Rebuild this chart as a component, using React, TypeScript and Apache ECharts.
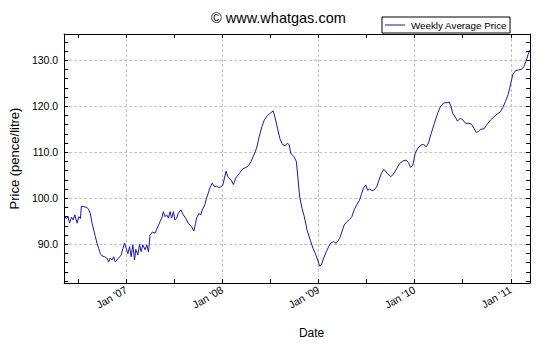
import React, { useEffect, useRef } from "react";
import * as echarts from "echarts";

// Decimal-year positions of the weekly readings
const years = [
  2006.362, 2006.376, 2006.397, 2006.41, 2006.431, 2006.448, 2006.466, 2006.49, 2006.507, 2006.524,
  2006.534, 2006.559, 2006.593, 2006.611, 2006.627, 2006.645, 2006.663, 2006.679, 2006.697, 2006.714,
  2006.731, 2006.748, 2006.776, 2006.8, 2006.818, 2006.834, 2006.852, 2006.87, 2006.886, 2006.904,
  2006.921, 2006.948, 2006.966, 2006.983, 2007.0, 2007.018, 2007.035, 2007.052, 2007.069, 2007.087,
  2007.1, 2007.121, 2007.139, 2007.155, 2007.173, 2007.197, 2007.214, 2007.232, 2007.248, 2007.273,
  2007.3, 2007.328, 2007.352, 2007.37, 2007.387, 2007.404, 2007.421, 2007.439, 2007.456, 2007.473,
  2007.491, 2007.507, 2007.525, 2007.542, 2007.569, 2007.594, 2007.618, 2007.646, 2007.68, 2007.704,
  2007.722, 2007.732, 2007.756, 2007.776, 2007.791, 2007.818, 2007.835, 2007.853, 2007.87, 2007.894,
  2007.921, 2007.939, 2007.957, 2007.983, 2008.004, 2008.039, 2008.056, 2008.091, 2008.115, 2008.143,
  2008.177, 2008.211, 2008.246, 2008.273, 2008.298, 2008.332, 2008.356, 2008.384, 2008.412, 2008.436,
  2008.47, 2008.505, 2008.529, 2008.55, 2008.574, 2008.598, 2008.625, 2008.653, 2008.677, 2008.695,
  2008.712, 2008.746, 2008.77, 2008.788, 2008.805, 2008.829, 2008.853, 2008.881, 2008.915, 2008.943,
  2008.967, 2008.992, 2009.012, 2009.029, 2009.054, 2009.081, 2009.106, 2009.129, 2009.157, 2009.184,
  2009.22, 2009.243, 2009.267, 2009.295, 2009.323, 2009.347, 2009.371, 2009.399, 2009.427, 2009.45,
  2009.468, 2009.492, 2009.512, 2009.53, 2009.554, 2009.578, 2009.606, 2009.623, 2009.654, 2009.681,
  2009.716, 2009.751, 2009.774, 2009.81, 2009.844, 2009.878, 2009.913, 2009.937, 2009.958, 2009.981,
  2010.006, 2010.033, 2010.068, 2010.095, 2010.12, 2010.144, 2010.172, 2010.206, 2010.24, 2010.268,
  2010.302, 2010.338, 2010.361, 2010.379, 2010.396, 2010.431, 2010.444, 2010.478, 2010.503, 2010.53,
  2010.565, 2010.592, 2010.617, 2010.641, 2010.662, 2010.685, 2010.721, 2010.755, 2010.789, 2010.824,
  2010.858, 2010.892, 2010.917, 2010.944, 2010.972, 2010.996, 2011.021, 2011.048, 2011.083, 2011.11,
  2011.135, 2011.158, 2011.179, 2011.197,
];

// Weekly average price, pence/litre
const prices = [
  96.1, 95.6, 96.0, 94.6, 95.9, 95.3, 96.4, 94.6, 96.0, 95.6,
  98.3, 98.2, 98.0, 97.5, 96.7, 94.6, 93.1, 91.7, 90.2, 89.1,
  88.0, 87.5, 87.3, 87.0, 86.2, 87.0, 86.6, 87.3, 86.2, 86.6,
  87.0, 87.7, 89.1, 90.3, 89.1, 88.0, 89.5, 87.3, 89.9, 86.6,
  88.9, 87.7, 90.0, 88.4, 89.9, 88.8, 89.9, 88.3, 92.0, 92.7,
  92.4, 93.8, 94.9, 95.7, 97.1, 96.0, 96.4, 95.7, 97.1, 95.7,
  97.1, 95.3, 95.7, 96.7, 97.5, 96.4, 95.7, 94.6, 93.8, 92.9,
  94.6, 95.7, 96.7, 96.4, 97.5, 98.6, 100.0, 101.1, 102.2, 103.3,
  102.5, 102.7, 102.3, 102.5, 102.8, 105.9, 104.7, 104.0, 103.0, 104.5,
  105.4, 106.4, 106.7, 107.1, 108.0, 109.6, 110.9, 113.4, 115.6, 117.0,
  118.0, 118.6, 119.0, 117.4, 115.2, 113.0, 111.7, 111.4, 112.0, 111.6,
  109.8, 109.0, 108.0, 104.0, 100.2, 97.8, 96.0, 93.1, 90.9, 89.1,
  88.0, 86.6, 85.3, 85.5, 87.0, 88.4, 89.5, 90.3, 90.6, 90.2,
  91.3, 92.7, 94.2, 94.9, 95.4, 96.0, 97.5, 98.6, 99.6, 101.1,
  102.2, 102.9, 101.7, 102.0, 101.7, 101.8, 102.5, 103.6, 105.4, 106.3,
  105.4, 104.7, 105.1, 106.3, 107.6, 108.1, 108.3, 107.7, 106.7, 107.2,
  109.8, 110.9, 111.6, 111.7, 111.2, 112.0, 114.1, 116.3, 118.5, 119.9,
  120.7, 120.8, 120.9, 119.9, 118.5, 117.4, 116.8, 117.4, 117.0, 116.3,
  116.3, 116.1, 115.2, 114.3, 114.5, 115.0, 115.1, 116.1, 117.0, 117.7,
  118.3, 118.8, 119.7, 121.0, 122.5, 124.6, 126.9, 127.7, 127.9, 128.0,
  128.6, 129.7, 131.2, 132.2,
];

const yearLabels = [2007, 2008, 2009, 2010, 2011];
const halfYearTicks = [2006.5, 2007, 2007.5, 2008, 2008.5, 2009, 2009.5, 2010, 2010.5, 2011];
const priceLabels = [90, 100, 110, 120, 130];
const priceTicks = [
  82, 84, 86, 88, 90, 92, 94, 96, 98, 100, 102, 104, 106, 108, 110, 112, 114, 116, 118,
  120, 122, 124, 126, 128, 130, 132, 134,
];

const X_MIN = 2006.355;
const X_MAX = 2011.2;
const Y_MIN = 81.6;
const Y_MAX = 135.7;

const FONT = "'Liberation Sans', Arial, sans-serif";
const LINE_COLOR = "#1818a8";

export default function App() {
  const ref = useRef<HTMLDivElement>(null);

  useEffect(() => {
    document.body.style.margin = "0";
    const chart = echarts.init(ref.current!, null, { renderer: "svg" });
    const gridLine = { show: true, lineStyle: { color: "#c4c4c4", type: [3, 2], width: 1 } };
    const blackLine = { show: true, onZero: false, lineStyle: { color: "#000", width: 1 } };

    chart.setOption({
      animation: false,
      backgroundColor: "#fff",
      textStyle: { fontFamily: FONT },
      title: {
        text: "© www.whatgas.com",
        left: 211,
        top: 10,
        padding: 0,
        textStyle: { fontFamily: FONT, fontSize: 14.5, fontWeight: "normal", color: "#000" },
      },
      legend: {
        data: ["Weekly Average Price"],
        left: 382,
        top: 17,
        orient: "horizontal",
        icon: "rect",
        backgroundColor: "#fff",
        borderColor: "#000",
        borderWidth: 1,
        padding: [3, 3, 3, 3],
        itemWidth: 20,
        itemHeight: 1,
        itemGap: 0,
        textStyle: { fontFamily: FONT, fontSize: 9.8, color: "#000", padding: [0, 0, 0, 1] },
      },
      grid: { left: 62, right: 20, top: 34, bottom: 67, containLabel: false },
      xAxis: [
        {
          type: "value",
          position: "bottom",
          min: X_MIN,
          max: X_MAX,
          axisLine: blackLine,
          axisTick: { show: true, inside: true, length: 4, customValues: halfYearTicks, lineStyle: { color: "#000" } },
          axisLabel: {
            customValues: yearLabels,
            rotate: 30,
            margin: 6,
            fontSize: 10.5,
            color: "#000",
            fontFamily: FONT,
            formatter: (v: number) => "Jan '" + String(Math.round(v)).slice(2),
          },
          splitLine: { show: false },
          name: "Date",
          nameLocation: "middle",
          nameGap: 44,
          nameTextStyle: { fontSize: 12, color: "#000", fontFamily: FONT, verticalAlign: "top", padding: [0, 0, 0, 29] },
        },
        {
          type: "value",
          position: "top",
          min: X_MIN,
          max: X_MAX,
          axisLine: blackLine,
          axisTick: { show: true, inside: true, length: 4, customValues: halfYearTicks, lineStyle: { color: "#000" } },
          axisLabel: { show: false },
          splitLine: { show: false },
        },
        {
          type: "value",
          position: "bottom",
          min: X_MIN,
          max: X_MAX,
          axisLine: { show: false },
          axisTick: { show: false, customValues: yearLabels },
          axisLabel: { show: false },
          splitLine: gridLine,
        },
      ],
      yAxis: [
        {
          type: "value",
          position: "left",
          min: Y_MIN,
          max: Y_MAX,
          axisLine: blackLine,
          axisTick: { show: true, inside: true, length: 4, customValues: priceTicks, lineStyle: { color: "#000" } },
          axisLabel: {
            customValues: priceLabels,
            margin: 6,
            fontSize: 10.5,
            color: "#000",
            fontFamily: FONT,
            formatter: (v: number) => v.toFixed(1),
          },
          splitLine: { show: false },
          name: "Price (pence/litre)",
          nameLocation: "middle",
          nameGap: 37,
          nameTextStyle: { fontSize: 13, color: "#000", fontFamily: FONT },
        },
        {
          type: "value",
          position: "right",
          min: Y_MIN,
          max: Y_MAX,
          axisLine: blackLine,
          axisTick: { show: true, inside: true, length: 4, customValues: priceTicks, lineStyle: { color: "#000" } },
          axisLabel: { show: false },
          splitLine: { show: false },
        },
        {
          type: "value",
          position: "left",
          min: Y_MIN,
          max: Y_MAX,
          axisLine: { show: false },
          axisTick: { show: false, customValues: priceLabels },
          axisLabel: { show: false },
          splitLine: gridLine,
        },
      ],
      series: [
        {
          name: "Weekly Average Price",
          type: "line",
          xAxisIndex: 0,
          yAxisIndex: 0,
          symbol: "none",
          z: 5,
          lineStyle: { color: LINE_COLOR, width: 1 },
          itemStyle: { color: LINE_COLOR },
          data: years.map((t, i) => [t, prices[i]]),
        },
      ],
    });

    return () => chart.dispose();
  }, []);

  return <div ref={ref} style={{ width: 550, height: 350 }} />;
}
